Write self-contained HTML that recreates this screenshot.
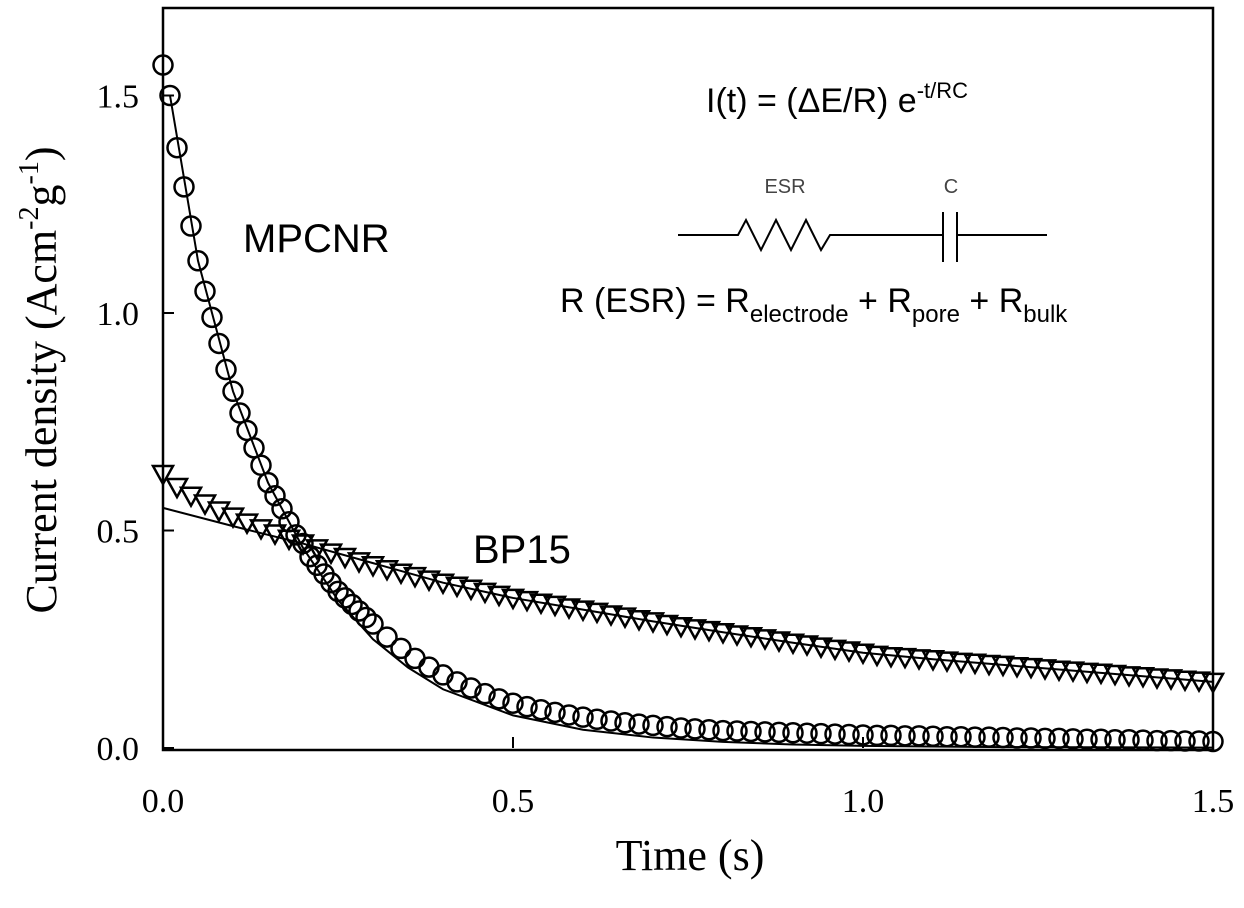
<!DOCTYPE html>
<html><head><meta charset="utf-8"><style>
body{margin:0;background:#fff}
svg{display:block}
.serif{font-family:"Liberation Serif",serif}
.sans{font-family:"Liberation Sans",sans-serif}
</style></head><body>
<svg id="chart" width="1244" height="908" xmlns="http://www.w3.org/2000/svg">
<g id="plot"></g>
<text class="serif" x="690" y="870" font-size="44" text-anchor="middle">Time (s)</text>
<text class="serif" font-size="44" text-anchor="middle" transform="translate(56,380) rotate(-90)">Current density (Acm<tspan font-size="28" dy="-18">-2</tspan><tspan dy="18">g</tspan><tspan font-size="28" dy="-18">-1</tspan><tspan dy="18">)</tspan></text>
<text class="sans" x="243" y="252" font-size="40">MPCNR</text>
<text class="sans" x="473" y="563" font-size="40">BP15</text>
<text class="sans" x="706" y="112" font-size="34">I(t) = (ΔE/R) e<tspan font-size="22" dy="-14">-t/RC</tspan></text>
<g fill="none" stroke="#000" stroke-width="2">
<polyline points="678,235 738,235 746,220 761,250 776,220 791,250 806,220 821,250 830,235 943,235"/>
<line x1="943" y1="212" x2="943" y2="262"/><line x1="957" y1="212" x2="957" y2="262"/>
<line x1="957" y1="235" x2="1047" y2="235"/>
</g>
<text class="sans" x="785" y="193" font-size="20" fill="#444" text-anchor="middle">ESR</text>
<text class="sans" x="951" y="193" font-size="20" fill="#444" text-anchor="middle">C</text>
<text class="sans" x="560" y="312" font-size="34">R (ESR) = R<tspan font-size="24" dy="10">electrode</tspan><tspan dy="-10"> + R</tspan><tspan font-size="24" dy="10">pore</tspan><tspan dy="-10"> + R</tspan><tspan font-size="24" dy="10">bulk</tspan></text>
</svg>
<script>
const xTicks=[0,0.5,1.0,1.5];
const xTickLabels=["0.0","0.5","1.0","1.5"];
const yTicks=[0,0.5,1.0,1.5];
const yTickLabels=["0.0","0.5","1.0","1.5"];
const mpcnrT=[0,.01,.02,.03,.04,.05,.06,.07,.08,.09,.10,.11,.12,.13,.14,.15,.16,.17,.18,.19,.20,.21,.22,.23,.24,.25,.26,.27,.28,.29,.30,.32,.34,.36,.38,.40,.42,.44,.46,.48,.50,.52,.54,.56,.58,.60,.62,.64,.66,.68,.70,.72,.74,.76,.78,.80,.82,.84,.86,.88,.90,.92,.94,.96,.98,1.00,1.02,1.04,1.06,1.08,1.10,1.12,1.14,1.16,1.18,1.20,1.22,1.24,1.26,1.28,1.30,1.32,1.34,1.36,1.38,1.40,1.42,1.44,1.46,1.48,1.50];
const mpcnrI=[1.57,1.50,1.38,1.29,1.20,1.12,1.05,0.99,0.93,0.87,0.82,0.77,0.73,0.69,0.65,0.61,0.58,0.55,0.52,0.49,0.47,0.44,0.42,0.40,0.38,0.36,0.345,0.33,0.315,0.30,0.285,0.255,0.229,0.206,0.186,0.168,0.152,0.138,0.125,0.113,0.103,0.095,0.088,0.082,0.076,0.071,0.066,0.062,0.058,0.055,0.052,0.049,0.046,0.044,0.042,0.040,0.039,0.038,0.037,0.036,0.035,0.034,0.033,0.032,0.031,0.030,0.029,0.029,0.028,0.028,0.027,0.026,0.026,0.025,0.025,0.024,0.023,0.023,0.022,0.022,0.021,0.020,0.020,0.019,0.019,0.018,0.017,0.017,0.016,0.016,0.015];
const mpcnrFitT=[0.01,.05,.1,.15,.2,.25,.3,.35,.4,.5,.6,.7,.8,.9,1.0,1.2,1.5];
const mpcnrFitI=[1.50,1.12,0.82,0.61,0.46,0.34,0.25,0.185,0.135,0.075,0.042,0.024,0.014,0.008,0.005,0.002,0.001];
const bpT=[0,.02,.04,.06,.08,.10,.12,.14,.16,.18,.20,.22,.24,.26,.28,.30,.32,.34,.36,.38,.40,.42,.44,.46,.48,.50,.52,.54,.56,.58,.60,.62,.64,.66,.68,.70,.72,.74,.76,.78,.80,.82,.84,.86,.88,.90,.92,.94,.96,.98,1.00,1.02,1.04,1.06,1.08,1.10,1.12,1.14,1.16,1.18,1.20,1.22,1.24,1.26,1.28,1.30,1.32,1.34,1.36,1.38,1.40,1.42,1.44,1.46,1.48,1.50];
const bpI=[.630,.600,.580,.562,.546,.532,.518,.505,.493,.481,.470,.459,.449,.439,.429,.420,.411,.403,.395,.387,.380,.373,.366,.359,.352,.345,.340,.334,.329,.323,.318,.313,.307,.302,.296,.291,.285,.280,.275,.271,.266,.261,.257,.252,.247,.242,.238,.233,.228,.224,.219,.214,.211,.209,.206,.204,.201,.198,.196,.193,.191,.188,.186,.183,.180,.178,.175,.173,.170,.167,.165,.162,.160,.157,.155,.152];
const bpFitT=[0,.1,.2,.3,.4,.5,.6,.7,.8,.9,1.0,1.1,1.2,1.3,1.4,1.5];
const bpFitI=[.552,.51,.47,.425,.38,.345,.318,.291,.266,.242,.219,.204,.191,.178,.165,.152];

const X0=163,X1=1213,Y0=748,YT=8;
const sx=v=>X0+(v/1.5)*(X1-X0);
const sy=v=>Y0-v*435;
const NS="http://www.w3.org/2000/svg";
const plot=document.getElementById('plot');
function mk(tag,attrs){const e=document.createElementNS(NS,tag);for(const k in attrs)e.setAttribute(k,attrs[k]);plot.appendChild(e);return e;}

const frame=mk('rect',{x:X0,y:YT,width:X1-X0,height:Y0-YT+2,fill:'none',stroke:'#000','stroke-width':2.5});



xTicks.forEach((v,i)=>{
  const t=mk('line',{x1:sx(v),x2:sx(v),y1:Y0,y2:Y0-11,stroke:'#000','stroke-width':2});
  
  
  const l=mk('text',{x:sx(v),y:812,'font-size':34,'text-anchor':'middle','class':'serif'});
  l.textContent=xTickLabels[i];
  
  
});
yTicks.forEach((v,i)=>{
  const t=mk('line',{x1:X0,x2:X0+11,y1:sy(v),y2:sy(v),stroke:'#000','stroke-width':2});
  
  
  const l=mk('text',{x:139,y:sy(v)+12,'font-size':34,'text-anchor':'end','class':'serif'});
  l.textContent=yTickLabels[i];
  
  
});

function line(ts,vs,name){
  const p=mk('polyline',{points:ts.map((t,i)=>sx(t)+','+sy(vs[i])).join(' '),fill:'none',stroke:'#000','stroke-width':2});
  
  
}
line(mpcnrFitT,mpcnrFitI,'mpcnr-fit-line');
line(bpFitT,bpFitI,'bp15-fit-line');

bpT.forEach((t,i)=>{
  const x=sx(t),y=sy(bpI[i]);
  const m=mk('polygon',{points:`${x-10},${y-8} ${x+10},${y-8} ${x},${y+10}`,fill:'none',stroke:'#000','stroke-width':2.5});
  
  
});
mpcnrT.forEach((t,i)=>{
  const m=mk('circle',{cx:sx(t),cy:sy(mpcnrI[i]),r:9.5,fill:'none',stroke:'#000','stroke-width':2.5});
  
  
});
</script>
</body></html>
